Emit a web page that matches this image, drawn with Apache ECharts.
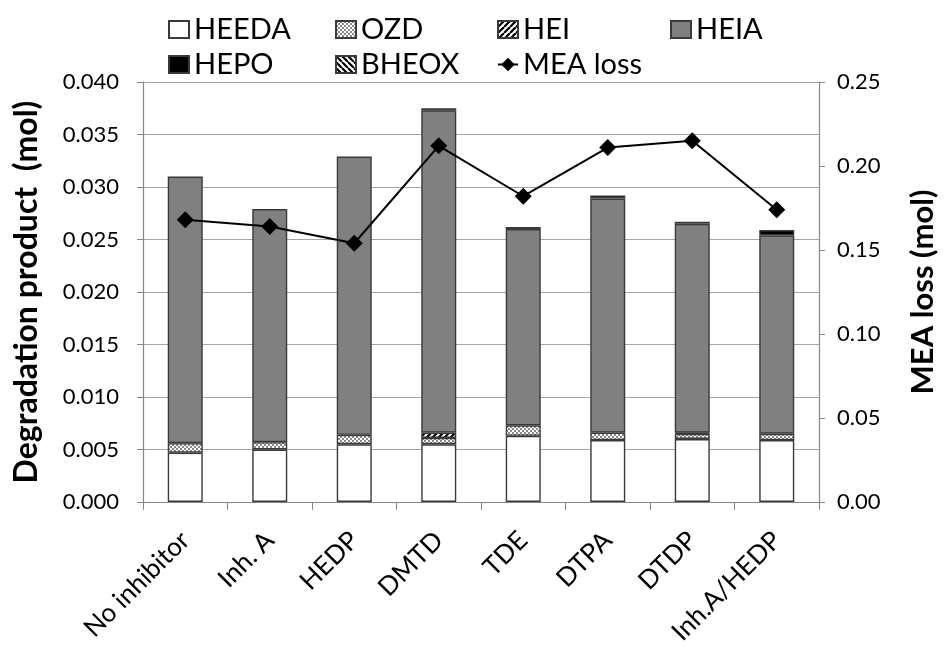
<!DOCTYPE html>
<html>
<head>
<meta charset="utf-8">
<script src="https://cdn.jsdelivr.net/npm/echarts@6/dist/echarts.min.js"></script>
<style>
  html, body { margin: 0; padding: 0; background: #fff; }
  #chart { width: 946px; height: 651px; }
</style>
</head>
<body>
<div id="chart"></div>
<script>
// Inhibitor runs
const categories = ['No inhibitor', 'Inh. A', 'HEDP', 'DMTD', 'TDE', 'DTPA', 'DTDP', 'Inh.A/HEDP'];

// Degradation products (mol), stacked bottom to top
const HEEDA = [0.0047, 0.0050, 0.0055, 0.0055, 0.0063, 0.0059, 0.0060, 0.0059];
const OZD   = [0.0009, 0.0007, 0.0009, 0.0006, 0.0010, 0.0007, 0.0005, 0.0006];
const HEI   = [0, 0, 0, 0.0005, 0, 0, 0.0001, 0];
const HEIA  = [0.0254, 0.0222, 0.0265, 0.0307, 0.0187, 0.0223, 0.0199, 0.0189];
const HEPO  = [0, 0, 0, 0.0002, 0.0002, 0.0003, 0.0002, 0.0005];
const BHEOX = [0, 0, 0, 0, 0, 0, 0, 0];

// MEA loss (mol), right axis
const MEA_LOSS = [0.168, 0.164, 0.154, 0.212, 0.182, 0.211, 0.215, 0.174];

const FONT = 'Lato';

function makePattern(draw, w, h) {
  const c = document.createElement('canvas');
  c.width = w; c.height = h;
  const ctx = c.getContext('2d');
  ctx.fillStyle = '#fff';
  ctx.fillRect(0, 0, w, h);
  draw(ctx, w, h);
  return { image: c, repeat: 'repeat' };
}

// fine checker for OZD
const checker = makePattern((ctx) => {
  ctx.fillStyle = '#8a8a8a';
  ctx.fillRect(0, 0, 2, 2);
  ctx.fillRect(2, 2, 2, 2);
}, 4, 4);

// forward hatch for HEI
const hatchFwd = makePattern((ctx, w, h) => {
  ctx.strokeStyle = '#000';
  ctx.lineWidth = 2.2;
  for (let k = -1; k <= 1; k++) {
    ctx.beginPath();
    ctx.moveTo(k * w, h);
    ctx.lineTo(k * w + w, 0);
    ctx.stroke();
  }
}, 6, 6);

// backward hatch for BHEOX
const hatchBack = makePattern((ctx, w, h) => {
  ctx.strokeStyle = '#000';
  ctx.lineWidth = 2.2;
  for (let k = -1; k <= 1; k++) {
    ctx.beginPath();
    ctx.moveTo(k * w, 0);
    ctx.lineTo(k * w + w, h);
    ctx.stroke();
  }
}, 6, 6);

const nz = arr => arr.map(v => (v === 0 ? null : v));

function barSeries(name, data, color) {
  return {
    name, type: 'bar', stack: 'deg', data: nz(data),
    barWidth: 35,
    itemStyle: { color, borderColor: '#3a3a3a', borderWidth: 1.4 },
    emphasis: { disabled: true }
  };
}

const legendText = { fontFamily: FONT, fontSize: 29, color: '#000' };
function legendCol(left, names) {
  return {
    orient: 'vertical', left, top: 10, itemGap: 6,
    itemWidth: 20, itemHeight: 17,
    textStyle: legendText,
    data: names.map(n => (n === 'MEA loss' ? { name: n } : { name: n, icon: 'rect' })),
    selectedMode: false
  };
}

const chart = echarts.init(document.getElementById('chart'), null, { renderer: 'canvas' });
chart.setOption({
  animation: false,
  backgroundColor: '#fff',
  textStyle: { fontFamily: FONT },
  legend: [
    legendCol(163, ['HEEDA', 'HEPO']),
    legendCol(330, ['OZD', 'BHEOX']),
    legendCol(492, ['HEI', 'MEA loss']),
    legendCol(665, ['HEIA'])
  ],
  grid: { left: 143, right: 113, top: 82, bottom: 149, containLabel: false },
  xAxis: {
    type: 'category', data: categories,
    axisLine: { lineStyle: { color: '#868686', width: 1.2 } },
    axisTick: { show: true, length: 8, lineStyle: { color: '#868686' } },
    axisLabel: { interval: 0, rotate: 45, fontFamily: FONT, fontSize: 26, color: '#000', margin: 34 }
  },
  yAxis: [
    {
      type: 'value', min: 0, max: 0.04, interval: 0.005,
      name: 'Degradation product  (mol)', nameLocation: 'middle', nameRotate: 90, nameGap: 100,
      nameTextStyle: { fontFamily: FONT, fontSize: 32, fontWeight: 'bold', color: '#000' },
      axisLine: { show: true, lineStyle: { color: '#868686', width: 1.2 } },
      axisTick: { show: true, length: 6, lineStyle: { color: '#868686' } },
      axisLabel: { fontFamily: FONT, fontSize: 22, color: '#000', margin: 24, formatter: v => v.toFixed(3) },
      splitLine: { show: true, lineStyle: { color: '#a6a6a6', width: 1.2 } }
    },
    {
      type: 'value', min: 0, max: 0.25, interval: 0.05, position: 'right',
      name: 'MEA loss (mol)', nameLocation: 'middle', nameRotate: 90, nameGap: 88,
      nameTextStyle: { fontFamily: FONT, fontSize: 31, fontWeight: 'bold', color: '#000' },
      axisLine: { show: true, lineStyle: { color: '#868686', width: 1.2 } },
      axisTick: { show: true, length: 6, lineStyle: { color: '#868686' } },
      axisLabel: { fontFamily: FONT, fontSize: 22, color: '#000', margin: 18, formatter: v => v.toFixed(2) },
      splitLine: { show: false }
    }
  ],
  series: [
    barSeries('HEEDA', HEEDA, '#ffffff'),
    barSeries('OZD', OZD, checker),
    barSeries('HEI', HEI, hatchFwd),
    barSeries('HEIA', HEIA, '#808080'),
    barSeries('HEPO', HEPO, '#000000'),
    barSeries('BHEOX', BHEOX, hatchBack),
    {
      name: 'MEA loss', type: 'line', yAxisIndex: 1, data: MEA_LOSS,
      symbol: 'diamond', symbolSize: [17, 17],
      lineStyle: { color: '#000', width: 2 },
      itemStyle: { color: '#000' },
      emphasis: { disabled: true },
      z: 5
    }
  ]
});
</script>
</body>
</html>
